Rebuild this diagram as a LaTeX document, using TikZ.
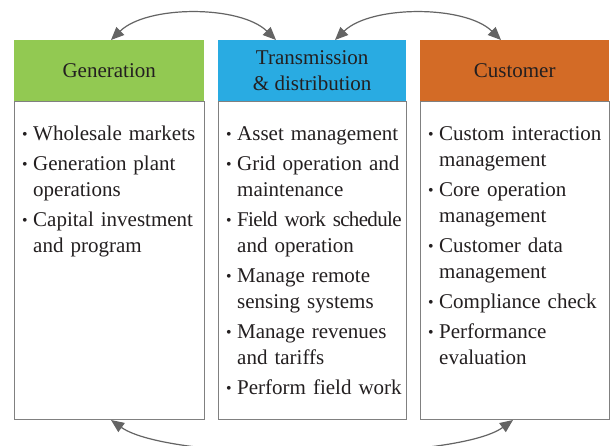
\documentclass[tikz,border=0pt]{standalone}
\usepackage{fontspec}
\usepackage{graphicx}
\setmainfont{Liberation Serif}
\usetikzlibrary{arrows.meta}
\definecolor{genc}{RGB}{146,201,82}
\definecolor{trac}{RGB}{41,171,226}
\definecolor{cusc}{RGB}{211,107,38}
\definecolor{txt}{RGB}{35,31,32}
\definecolor{edge}{RGB}{128,128,128}
\definecolor{arr}{RGB}{100,100,100}
\newcommand{\sbul}{\raisebox{0.05ex}{\scalebox{0.75}{•}}}
\newcommand{\bone}[1]{\noindent\makebox[11pt][l]{\sbul}#1\par\vspace{4pt}}
\newcommand{\btwo}[2]{\noindent\makebox[11pt][l]{\sbul}#1\par\noindent\hspace*{11pt}#2\par\vspace{4pt}}
\tikzset{
  head/.style={anchor=north west, minimum height=61pt, inner sep=0pt, align=center,
    font=\fontsize{21}{26}\selectfont, text=txt},
  body/.style={anchor=north west, draw=edge, line width=0.8pt, minimum height=318pt, inner sep=0pt},
  list/.style={anchor=north west, inner sep=0pt, text width=200pt, align=left, text=txt,
    font=\fontsize{21}{26}\selectfont\setlength{\parskip}{0pt}},
  conn/.style={draw=arr, line width=1.2pt, {Triangle[length=13pt,width=11pt]}-{Triangle[length=13pt,width=11pt]}}
}
\begin{document}
\begin{tikzpicture}[x=1pt,y=-1pt]
\useasboundingbox (0,0) rectangle (612,445);
\fill[white] (0,0) rectangle (612,445);
% bodies
\node[body, minimum width=190pt] (genbody) at (14,101) {};
\node[body, minimum width=188pt] (trabody) at (218,101) {};
\node[body, minimum width=189pt] (cusbody) at (420,101) {};
% headers
\node[head, fill=genc, minimum width=190pt] (genhead) at (14,40) {Generation};
\node[head, fill=trac, minimum width=188pt] (trahead) at (218,40) {Transmission\\\& distribution};
\node[head, fill=cusc, minimum width=189pt] (cushead) at (420,40) {Customer};
% lists
\node[list] (genlist) at (22,121.8) {\strut
  \bone{Wholesale markets}
  \btwo{Generation plant}{operations}
  \btwo{Capital investment}{and program}};
\node[list] (tralist) at (226,121.8) {\strut
  \bone{Asset management}
  \btwo{Grid operation and}{maintenance}
  \btwo{{\addfontfeature{LetterSpace=-3.2}Field work schedule}}{and operation}
  \btwo{Manage remote}{sensing systems}
  \btwo{Manage revenues}{and tariffs}
  \bone{Perform field work}};
\node[list] (cuslist) at (428,121.8) {\strut
  \btwo{Custom interaction}{management}
  \btwo{Core operation}{management}
  \btwo{Customer data}{management}
  \bone{Compliance check}
  \btwo{Performance}{evaluation}};
% connector ends
\coordinate (g1) at (111,40);
\coordinate (t1) at (276,40);
\coordinate (t2) at (335,40);
\coordinate (c1) at (501,40);
\coordinate (gb) at (111,420);
\coordinate (cb) at (513,420);
\draw[conn] (g1) .. controls (147,5) and (240,5) .. (t1);
\draw[conn] (t2) .. controls (371,5) and (465,5) .. (c1);
\draw[conn] (gb) .. controls (170,462) and (455,462) .. (cb);
\end{tikzpicture}
\end{document}
